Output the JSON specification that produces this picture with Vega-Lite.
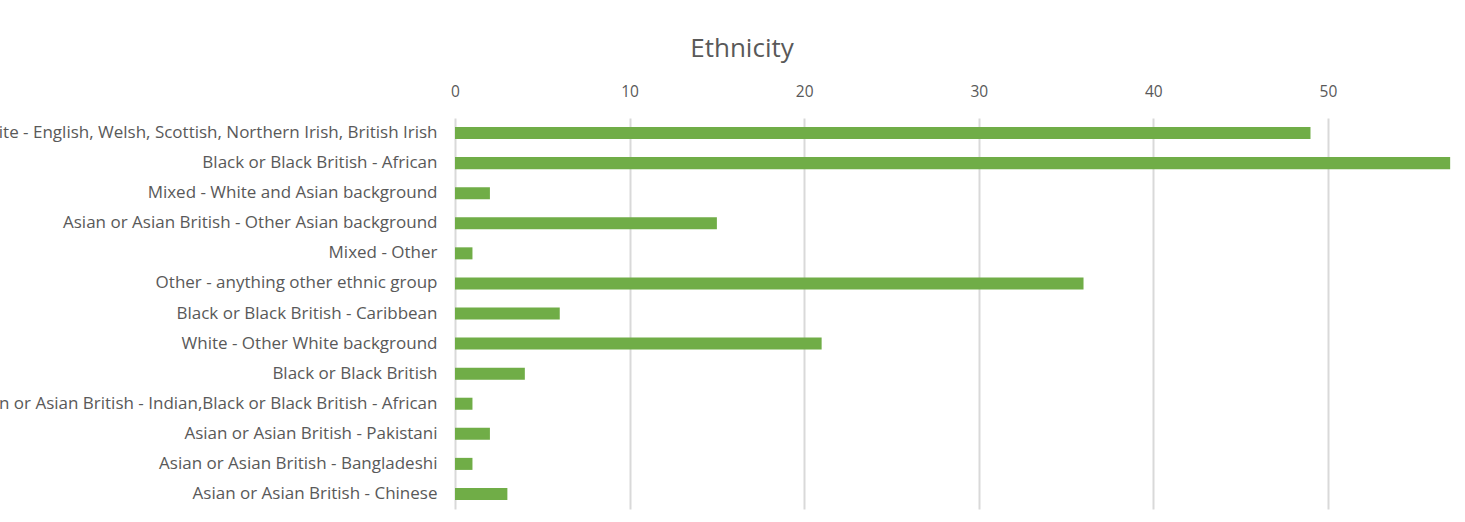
{
  "$schema": "https://vega.github.io/schema/vega-lite/v6.json",
  "autosize": {"type": "none"},
  "width": 1010,
  "height": 391,
  "padding": {"left": 455, "top": 118, "right": 0, "bottom": 13},
  "background": "white",
  "title": {
    "text": "Ethnicity",
    "fontSize": 26,
    "font": "Open Sans",
    "fontWeight": "normal",
    "color": "#595959",
    "anchor": "middle",
    "dx": -218,
    "offset": 22
  },
  "data": {
    "values": [
      {"ethnicity": "White - English, Welsh, Scottish, Northern Irish, British Irish", "count": 49},
      {"ethnicity": "Black or Black British - African", "count": 57},
      {"ethnicity": "Mixed - White and Asian background", "count": 2},
      {"ethnicity": "Asian or Asian British - Other Asian background", "count": 15},
      {"ethnicity": "Mixed - Other", "count": 1},
      {"ethnicity": "Other - anything other ethnic group", "count": 36},
      {"ethnicity": "Black or Black British - Caribbean", "count": 6},
      {"ethnicity": "White - Other White background", "count": 21},
      {"ethnicity": "Black or Black British", "count": 4},
      {"ethnicity": "Asian or Asian British - Indian,Black or Black British - African", "count": 1},
      {"ethnicity": "Asian or Asian British - Pakistani", "count": 2},
      {"ethnicity": "Asian or Asian British - Bangladeshi", "count": 1},
      {"ethnicity": "Asian or Asian British - Chinese", "count": 3}
    ]
  },
  "mark": {"type": "bar", "color": "#70ad47"},
  "encoding": {
    "y": {
      "field": "ethnicity",
      "type": "nominal",
      "sort": null,
      "title": null,
      "scale": {"paddingInner": 0.6, "paddingOuter": 0.3},
      "axis": {
        "domain": false,
        "ticks": false,
        "labelPadding": 18,
        "labelFont": "Open Sans",
        "labelFontSize": 17,
        "labelColor": "#595959",
        "labelLimit": 0
      }
    },
    "x": {
      "field": "count",
      "type": "quantitative",
      "title": null,
      "scale": {"domain": [0, 57.85], "nice": false, "zero": true},
      "axis": {
        "orient": "top",
        "values": [0, 10, 20, 30, 40, 50],
        "domain": false,
        "ticks": false,
        "labelFlush": false,
        "labelPadding": 19,
        "labelFont": "Open Sans",
        "labelFontSize": 15.5,
        "labelColor": "#595959",
        "gridColor": "#d9d9d9",
        "gridWidth": 2
      }
    }
  },
  "config": {"view": {"stroke": null}}
}
